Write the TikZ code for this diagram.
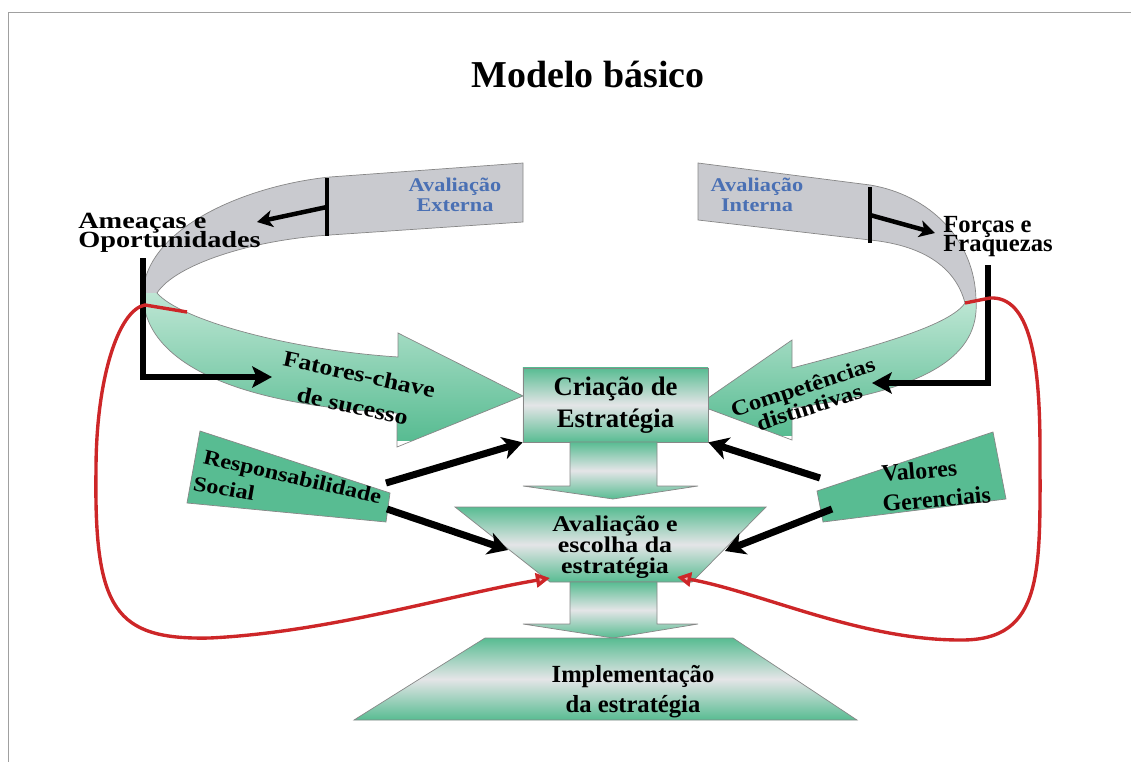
\documentclass[tikz,border=0pt]{standalone}
\usepackage{fontspec}
\setmainfont{Liberation Serif}
\newfontfamily\largo[FakeStretch=1.15]{Liberation Serif}
\newfontfamily\largomais[FakeStretch=1.22]{Liberation Serif}
\usetikzlibrary{arrows.meta}

\definecolor{verde}{RGB}{88,188,146}
\definecolor{verdeclaro}{RGB}{190,230,212}
\definecolor{cinzameio}{RGB}{228,229,231}
\definecolor{cinzafaixa}{RGB}{201,202,207}
\definecolor{contorno}{RGB}{135,135,135}
\definecolor{azultexto}{RGB}{74,112,180}
\definecolor{vermelho}{RGB}{205,38,40}
\definecolor{moldura}{RGB}{160,160,160}

\newcommand{\apertado}{\lineskiplimit=-20pt\relax}

% contorno das duas faixas (anel da avaliacao)
\newcommand{\aneleesq}{(523,163) -- (330,177) .. controls (250,185) and (150,225) .. (143,290) .. controls (140,360) and (230,405) .. (397,413) -- (397,447) -- (523,396) -- (398,333) -- (398,357) .. controls (290,350) and (180,320) .. (157,293) .. controls (175,265) and (250,240) .. (330,235) -- (523,222) -- cycle}
\newcommand{\aneldir}{(698,163) -- (870,185) .. controls (930,195) and (975,240) .. (976,300) .. controls (980,355) and (930,390) .. (792,408) -- (792,440) -- (698,405) -- (792,340) -- (792,368) .. controls (880,345) and (950,325) .. (965,303) .. controls (955,265) and (920,245) .. (870,240) -- (698,220) -- cycle}

\begin{document}
\begin{tikzpicture}[
        x=0.025cm, y=-0.025cm,
        faixa/.style={draw=contorno, line width=0.5pt},
        caixa/.style={draw=contorno, line width=0.5pt, top color=verde, bottom color=verde, middle color=cinzameio},
        placa/.style={draw=contorno, line width=0.5pt, fill=verde},
        setapreta/.style={line width=5pt, -{Stealth[length=14pt, width=16pt, inset=4pt]}},
        setafina/.style={line width=3.2pt, -{Stealth[length=11pt, width=12pt, inset=3pt]}},
        setaL/.style={line width=4.2pt, -{Stealth[length=14pt, width=15pt, inset=3pt]}},
        barra/.style={line width=3.2pt},
        laco/.style={draw=vermelho, line width=2.4pt, -{Triangle[length=10pt, width=10pt, fill=vermelho!35]}},
        rotulo/.style={inner sep=0pt, font=\bfseries, align=center},
    ]
    \useasboundingbox (0,0) rectangle (1131,762);
    \draw[moldura, line width=1.4pt] (8.5,762) -- (8.5,12.5) -- (1131,12.5);

    \node[rotulo, anchor=base, font=\bfseries\fontsize{27}{30}\selectfont] (titulo) at (588,88) {Modelo básico};

    % anel esquerdo
    \begin{scope}
        \clip (0,0) rectangle (1131,296);
        \fill[cinzafaixa] \aneleesq;
    \end{scope}
    \begin{scope}
        \clip \aneleesq;
        \shade[top color=verdeclaro, bottom color=verde] (0,293) rectangle (560,440);
    \end{scope}
    \draw[faixa] \aneleesq;

    % anel direito
    \begin{scope}
        \clip (0,0) rectangle (1131,303);
        \fill[cinzafaixa] \aneldir;
    \end{scope}
    \begin{scope}
        \clip \aneldir;
        \shade[top color=verdeclaro, bottom color=verde] (680,300) rectangle (1000,435);
    \end{scope}
    \draw[faixa] \aneldir;

    % coluna central
    \node[caixa, rotulo, minimum width=4.625cm, minimum height=1.85cm, font=\bfseries\fontsize{19}{22.7}\selectfont] (criacao) at (615.5,405) {Criação de\\Estratégia};
    \path[caixa] (570,442) -- (657,442) -- (657,486) -- (698,486) -- (613,499) -- (523,486) -- (570,486) -- cycle;
    \path[caixa] (455,507) -- (766,507) -- (692,582) -- (550,582) -- cycle;
    \path[caixa] (570,582) -- (657,582) -- (657,624) -- (698,624) -- (613,638) -- (523,624) -- (570,624) -- cycle;
    \path[caixa] (485,638) -- (733,638) -- (857,720) -- (354,720) -- cycle;
    \node[rotulo, font=\largo\bfseries\fontsize{16}{15}\selectfont\apertado] (avaliacao) at (615,547) {Avaliação e\\escolha da\\estratégia};
    \node[rotulo, font=\bfseries\fontsize{17.5}{21.3}\selectfont] (implementacao) at (633,692) {Implementação\\da estratégia};

    % placas laterais
    \path[placa] (200,431) -- (390,493) -- (386,522) -- (187,503) -- cycle;
    \path[placa] (817,491) -- (993,432) -- (1006,499) -- (823,522) -- cycle;
    \node[rotulo, anchor=base west, rotate=-13, font=\largo\bfseries\fontsize{15}{15}\selectfont] (responsabilidade) at (202,463) {Responsabilidade};
    \node[rotulo, anchor=base west, rotate=-10, font=\largo\bfseries\fontsize{15}{15}\selectfont] (social) at (192,490) {Social};
    \node[rotulo, anchor=base west, rotate=5, font=\bfseries\fontsize{17}{17}\selectfont] (valores) at (882,482) {Valores};
    \node[rotulo, anchor=base west, rotate=5, font=\bfseries\fontsize{17}{17}\selectfont] (gerenciais) at (883,512) {Gerenciais};

    % setas pretas
    \coordinate (rsA) at (386,483);
    \coordinate (rsB) at (387,509);
    \coordinate (vgA) at (820,478);
    \coordinate (vgB) at (832,509);
    \coordinate (avalE) at (508,550);
    \coordinate (avalD) at (725,551);
    \draw[setapreta] (rsA) -- (criacao.south west);
    \draw[setapreta] (rsB) -- (avalE);
    \draw[setapreta] (vgA) -- (criacao.south east);
    \draw[setapreta] (vgB) -- (avalD);

    \coordinate (ameacasPe) at (143,258);
    \coordinate (fatoresSeta) at (272,377);
    \coordinate (forcasPe) at (988,265);
    \coordinate (competSeta) at (872,383);
    \draw[setaL] (ameacasPe) |- (fatoresSeta);
    \draw[setaL] (forcasPe) |- (competSeta);

    \coordinate (extTopo) at (327,178);
    \coordinate (extBase) at (327,236);
    \coordinate (extMeio) at (327,207);
    \coordinate (ameacasSeta) at (257,222);
    \coordinate (intTopo) at (870,187);
    \coordinate (intBase) at (870,243);
    \coordinate (intMeio) at (870,215);
    \coordinate (forcasSeta) at (935,233);
    \draw[barra] (extTopo) -- (extBase);
    \draw[barra] (intTopo) -- (intBase);
    \draw[setafina] (extMeio) -- (ameacasSeta);
    \draw[setafina] (intMeio) -- (forcasSeta);

    % lacos vermelhos
    \coordinate (lacoEsq) at (187,312);
    \coordinate (lacoDir) at (965,303);
    \coordinate (avalRedE) at (550,578);
    \coordinate (avalRedD) at (677,577);
    \draw[laco] (lacoEsq) -- (145,305) .. controls (118,310) and (96,380) .. (96,470) .. controls (94,610) and (115,640) .. (210,638) .. controls (330,632) and (450,595) .. (avalRedE);
    \draw[laco] (lacoDir) -- (990,298) .. controls (1030,296) and (1040,360) .. (1040,450) .. controls (1040,570) and (1045,641) .. (960,640) .. controls (860,640) and (760,592) .. (avalRedD);

    % textos
    \node[rotulo, text=azultexto, font=\largo\bfseries\fontsize{13.8}{14.2}\selectfont] (externa) at (455,195) {Avaliação\\Externa};
    \node[rotulo, text=azultexto, font=\largo\bfseries\fontsize{13.8}{14.2}\selectfont] (interna) at (757,195) {Avaliação\\Interna};
    \node[rotulo, align=left, anchor=north west, font=\largomais\bfseries\fontsize{16.5}{13.5}\selectfont\apertado] (ameacas) at (78,213) {Ameaças e\\Oportunidades};
    \node[rotulo, align=left, anchor=north west, font=\bfseries\fontsize{17.5}{13.5}\selectfont\apertado] (forcas) at (943,216) {Forças e\\Fraquezas};
    \node[rotulo, rotate=-12, font=\largo\bfseries\fontsize{16}{23}\selectfont] (fatores) at (356,390) {Fatores-chave\\de sucesso};
    \node[rotulo, rotate=18, font=\largo\bfseries\fontsize{15.5}{15}\selectfont\apertado] (competencias) at (806,397) {Competências\\distintivas};
\end{tikzpicture}
\end{document}
